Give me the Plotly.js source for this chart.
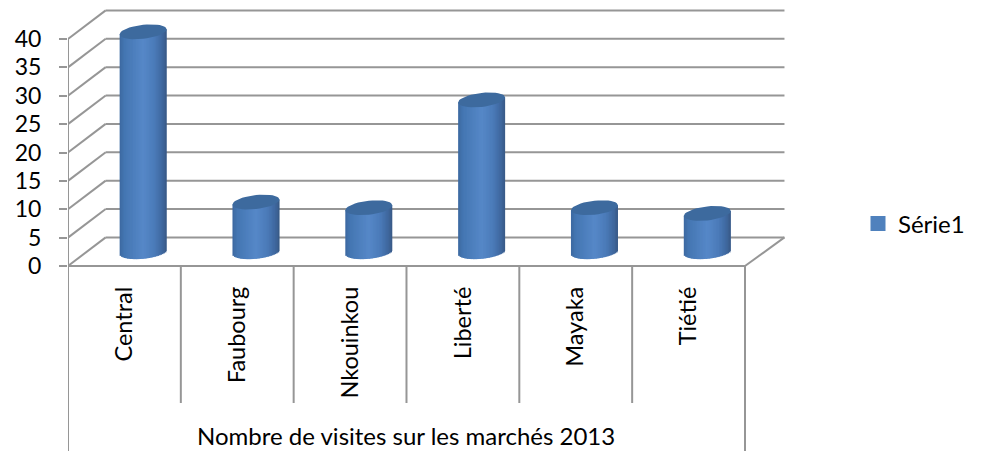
<!DOCTYPE html>
<html><head><meta charset="utf-8">
<script src="https://cdn.plot.ly/plotly-3.0.1.min.js"></script>
<style>html,body{margin:0;padding:0;background:#fff;overflow:hidden}#c{width:997px;height:451px}</style>
</head><body><div id="c"></div>
<script>
// ---- data
const categories = ['Central','Faubourg','Nkouinkou','Liberté','Mayaka','Tiétié'];
const values = [39, 9, 8, 27, 8, 7];
const seriesName = 'Série1';
const yTicks = [0,5,10,15,20,25,30,35,40];
const axisTitle = 'Nombre de visites sur les marchés 2013';

// ---- page geometry
const W=997,H=451,left=68,right=790,y0px=266,pxPerUnit=5.675,pxPerCat=112.83;
const xIdx = categories.map((_,i)=>i);
const xMax = -0.5+(right-left)/pxPerCat;
const yMin = (y0px-H)/pxPerUnit, yMax = y0px/pxPerUnit;
const grey='#969696', font='Lato, Carlito, sans-serif';

// 3-D projection in data units: depth of the box
const backDx=0.334, backDxR=0.35, backDy=5.04, midDx=0.166, midDy=2.52, capDrop=0.25;
const rx=23.5, ry=7, tilt=2.5;   // cylinder ellipse in px

function seg(x0,y0,x1,y1,w){return {type:'line',layer:'below',xref:'x',yref:'y',x0,y0,x1,y1,line:{color:grey,width:w||2}};}
const shapes=[];
yTicks.forEach(v=>{
  shapes.push(seg(-0.5,v,-0.5+backDx,v+backDy));
  shapes.push(seg(-0.5+backDx,v+backDy,5.5+backDxR,v+backDy));
});
const yBottom=yMin, yDiv=(y0px-403)/pxPerUnit;
shapes.push(seg(-0.5,0,5.5,0));
shapes.push(seg(5.5,0,5.5+backDxR,backDy));
shapes.push(seg(-0.5,yBottom,-0.5,yTicks[yTicks.length-1]));
shapes.push(seg(5.5,yBottom,5.5,0));
for(let i=1;i<categories.length;i++) shapes.push(seg(i-0.5,yDiv,i-0.5,0));

// colour ramp across the cylinder
const ramp=[[0,[60,104,160]],[0.1,[68,118,178]],[0.5,[86,136,200]],[0.75,[74,122,184]],[0.92,[62,102,156]],[1,[56,88,132]]];
function rampColor(t){
  for(let i=1;i<ramp.length;i++) if(t<=ramp[i][0]){
    const a=ramp[i-1],b=ramp[i],f=(t-a[0])/(b[0]-a[0]);
    return 'rgb('+a[1].map((c,k)=>Math.round(c+(b[1][k]-c)*f)).join(',')+')';
  }
  return 'rgb(56,88,132)';
}
const traces=[];
const strips=32, step=(2*rx/strips)/pxPerCat;
for(let s=0;s<strips;s++){
  const u=(s+0.5)/strips*2-1;
  const start=midDx-rx/pxPerCat+s*step;
  const width=s<strips-1?step*1.8:step;      // overlap neighbours to hide seams
  const low=(tilt*u-ry*Math.sqrt(1-u*u))/pxPerUnit;
  const top=tilt*u/pxPerUnit-capDrop;
  traces.push({type:'bar',x:xIdx,
    y:values.map(v=>v+top-low),
    base:values.map(()=>midDy+low),
    offset:start,width:width,
    marker:{color:rampColor((u+1)/2),line:{width:0}},
    showlegend:false,hoverinfo:'skip'});
}
// cylinder caps
const capX=[],capY=[];
values.forEach((v,i)=>{
  for(let a=0;a<=40;a++){
    const t=a/40*2*Math.PI;
    capX.push(i+midDx+rx*Math.cos(t)/pxPerCat);
    capY.push(v+midDy-capDrop+(ry*Math.sin(t)+tilt*Math.cos(t))/pxPerUnit);
  }
  capX.push(null);capY.push(null);
});
traces.push({type:'scatter',mode:'lines',x:capX,y:capY,fill:'toself',fillcolor:'#3d6a9e',
  line:{width:0,color:'#3d6a9e'},showlegend:false,hoverinfo:'skip'});
// legend entry
traces.push({type:'scatter',mode:'markers',x:[null],y:[null],name:seriesName,
  marker:{symbol:'square',size:15,color:'#4f81bd'}});

const layout={
  width:W,height:H,paper_bgcolor:'#fff',plot_bgcolor:'#fff',
  margin:{l:left,r:W-right,t:0,b:0,pad:0},
  barmode:'overlay',shapes,
  font:{family:font,size:24,color:'#000'},
  xaxis:{type:'linear',range:[-0.5,xMax],anchor:'free',position:(H-y0px)/H,
    tickmode:'array',tickvals:xIdx,ticktext:categories,tickangle:-90,
    ticks:'',ticklabelstandoff:15,showgrid:false,zeroline:false,showline:false,
    tickfont:{family:font,size:23.5,color:'#000'}},
  yaxis:{type:'linear',range:[yMin,yMax],tickmode:'array',tickvals:yTicks,
    ticks:'outside',ticklen:8,tickwidth:2,tickcolor:grey,ticklabelstandoff:13,
    showgrid:false,zeroline:false,showline:false,
    tickfont:{family:font,size:23,color:'#000'}},
  legend:{x:(858-left)/(right-left),xanchor:'left',y:(H-224)/H,yanchor:'middle',
    font:{family:font,size:24,color:'#000'},bgcolor:'rgba(0,0,0,0)'},
  annotations:[{xref:'x',yref:'y',x:2.5,y:(y0px-435.5)/pxPerUnit,text:axisTitle,showarrow:false,
    font:{family:font,size:24,color:'#000'},xanchor:'center',yanchor:'middle',borderpad:0}]
};
Plotly.newPlot('c',traces,layout,{staticPlot:true,displayModeBar:false});
</script></body></html>
